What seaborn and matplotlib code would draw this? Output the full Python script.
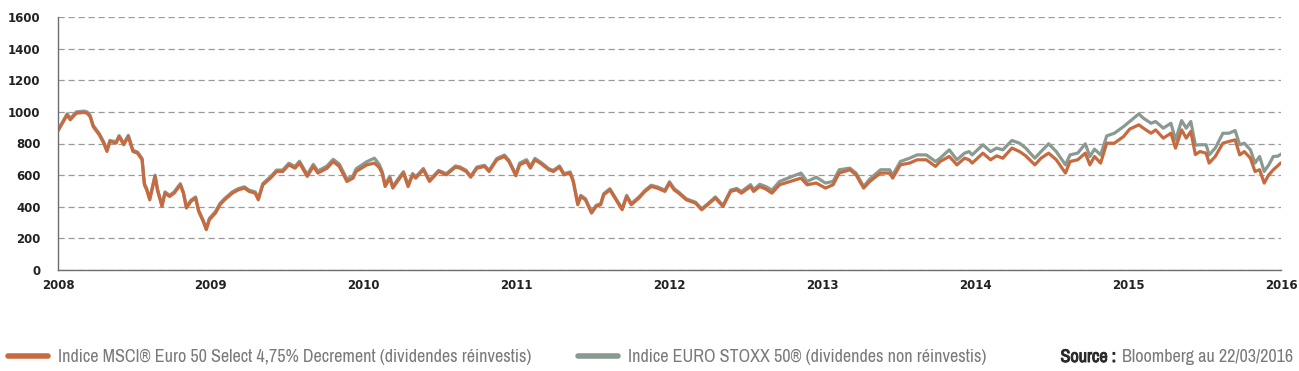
import matplotlib
matplotlib.use('Agg')
import matplotlib.pyplot as plt
from matplotlib import font_manager
from matplotlib import patheffects
from matplotlib.lines import Line2D
import seaborn as sns
import pandas as pd

# dates as decimal years
years = [
    2008.00, 2008.02, 2008.035, 2008.06, 2008.08, 2008.12, 2008.17, 2008.19, 2008.21, 2008.23,
    2008.27, 2008.30, 2008.32, 2008.34, 2008.38, 2008.40, 2008.43, 2008.46, 2008.49, 2008.52,
    2008.55, 2008.565, 2008.58, 2008.60, 2008.635, 2008.65, 2008.68, 2008.70, 2008.73, 2008.76,
    2008.80, 2008.82, 2008.84, 2008.87, 2008.90, 2008.92, 2008.95, 2008.97, 2008.99, 2009.03,
    2009.06, 2009.09, 2009.14, 2009.18, 2009.22, 2009.25, 2009.29, 2009.31, 2009.34, 2009.39,
    2009.43, 2009.47, 2009.51, 2009.55, 2009.58, 2009.63, 2009.67, 2009.70, 2009.76, 2009.80,
    2009.84, 2009.89, 2009.93, 2009.95, 2010.02, 2010.07, 2010.10, 2010.12, 2010.14, 2010.17,
    2010.19, 2010.22, 2010.26, 2010.29, 2010.32, 2010.34, 2010.39, 2010.43, 2010.49, 2010.54,
    2010.60, 2010.63, 2010.67, 2010.70, 2010.74, 2010.79, 2010.82, 2010.87, 2010.92, 2010.95,
    2010.995, 2011.02, 2011.065, 2011.09, 2011.12, 2011.16, 2011.21, 2011.24, 2011.28, 2011.31,
    2011.35, 2011.37, 2011.40, 2011.42, 2011.45, 2011.49, 2011.52, 2011.55, 2011.57, 2011.61,
    2011.65, 2011.69, 2011.72, 2011.75, 2011.80, 2011.84, 2011.88, 2011.92, 2011.97, 2012.00,
    2012.03, 2012.06, 2012.11, 2012.17, 2012.21, 2012.25, 2012.30, 2012.35, 2012.40, 2012.44,
    2012.47, 2012.53, 2012.55, 2012.59, 2012.63, 2012.67, 2012.72, 2012.79, 2012.86, 2012.90,
    2012.96, 2013.02, 2013.07, 2013.11, 2013.18, 2013.22, 2013.27, 2013.31, 2013.38, 2013.44,
    2013.46, 2013.51, 2013.57, 2013.62, 2013.68, 2013.74, 2013.77, 2013.83, 2013.88, 2013.93,
    2013.96, 2013.98, 2014.05, 2014.10, 2014.14, 2014.18, 2014.24, 2014.29, 2014.33, 2014.39,
    2014.43, 2014.48, 2014.53, 2014.59, 2014.62, 2014.67, 2014.72, 2014.75, 2014.78, 2014.82,
    2014.86, 2014.91, 2014.97, 2015.01, 2015.07, 2015.10, 2015.15, 2015.18, 2015.23, 2015.28,
    2015.31, 2015.35, 2015.38, 2015.41, 2015.44, 2015.47, 2015.51, 2015.53, 2015.57, 2015.62,
    2015.66, 2015.70, 2015.73, 2015.76, 2015.80, 2015.83, 2015.86, 2015.89, 2015.92, 2015.95,
    2015.98, 2016.00,
]

msci_select = [
    880, 915, 939, 981, 950, 992, 996, 992, 970, 907,
    855, 800, 750, 813, 802, 844, 792, 844, 750, 739,
    697, 539, 507, 444, 592, 507, 402, 486, 465, 486,
    539, 486, 392, 434, 455, 371, 307, 255, 318, 360,
    413, 444, 486, 507, 518, 497, 486, 444, 539, 581,
    623, 623, 665, 644, 676, 592, 655, 613, 644, 686,
    655, 560, 581, 623, 665, 676, 650, 613, 528, 581,
    518, 560, 613, 528, 602, 581, 634, 560, 623, 602,
    651, 644, 623, 587, 644, 655, 623, 697, 718, 686,
    596, 665, 686, 644, 697, 672, 634, 623, 651, 602,
    613, 560, 413, 465, 444, 360, 402, 413, 476, 507,
    444, 381, 465, 413, 455, 497, 528, 518, 497, 550,
    507, 486, 444, 423, 381, 413, 455, 402, 497, 507,
    486, 528, 497, 528, 512, 486, 539, 560, 581, 539,
    550, 518, 539, 613, 634, 602, 518, 560, 613, 613,
    581, 665, 676, 697, 697, 655, 686, 718, 665, 707,
    697, 676, 739, 697, 722, 707, 771, 749, 722, 665,
    707, 739, 697, 613, 686, 697, 739, 665, 718, 676,
    802, 802, 844, 891, 918, 897, 865, 886, 834, 865,
    771, 886, 834, 876, 730, 749, 739, 676, 718, 802,
    813, 823, 728, 749, 707, 623, 634, 550, 602, 634,
    660, 678,
]

euro_stoxx = [
    885, 920, 945, 988, 958, 1000, 1005, 1000, 978, 915,
    862, 808, 758, 820, 810, 850, 800, 852, 758, 746,
    705, 548, 515, 452, 600, 515, 410, 494, 472, 494,
    546, 493, 400, 442, 462, 378, 314, 262, 326, 370,
    422, 452, 494, 515, 526, 505, 494, 452, 547, 590,
    632, 632, 675, 655, 688, 604, 668, 626, 658, 700,
    670, 575, 596, 640, 685, 707, 670, 625, 540, 592,
    528, 570, 622, 537, 610, 590, 642, 568, 630, 609,
    658, 652, 630, 594, 651, 662, 630, 705, 727, 694,
    604, 676, 698, 655, 706, 680, 641, 630, 658, 609,
    620, 567, 420, 472, 451, 367, 409, 420, 483, 514,
    451, 388, 472, 420, 462, 504, 536, 526, 505, 558,
    515, 493, 450, 429, 387, 419, 462, 409, 505, 516,
    496, 540, 509, 542, 528, 505, 560, 587, 613, 560,
    587, 550, 560, 634, 644, 613, 528, 575, 634, 634,
    600, 686, 707, 728, 728, 686, 707, 760, 697, 739,
    749, 728, 792, 749, 771, 760, 819, 802, 771, 707,
    749, 798, 749, 665, 728, 739, 798, 718, 764, 728,
    848, 865, 907, 939, 987, 960, 928, 939, 897, 928,
    823, 945, 897, 939, 790, 792, 792, 728, 771, 865,
    865, 882, 792, 802, 760, 676, 718, 623, 665, 718,
    720, 733,
]

year_ticks = [2008, 2009, 2010, 2011, 2012, 2013, 2014, 2015, 2016]
value_ticks = [0, 200, 400, 600, 800, 1000, 1200, 1400, 1600]

label_msci = "Indice MSCI® Euro 50 Select 4,75% Decrement (dividendes réinvestis)"
label_stoxx = "Indice EURO STOXX 50® (dividendes non réinvestis)"
source_bold = "Source :"
source_txt = "Bloomberg au 22/03/2016"

ORANGE = '#C86A40'
GREY = '#8A9A90'
TXT_GREY = '#7a7a7a'

W, H = 1299, 371

df = pd.DataFrame({'annee': years, 'msci': msci_select, 'stoxx': euro_stoxx})

sns.set_style('white')
plt.rcParams['font.family'] = ['DejaVu Sans']

# police etroite si dispo, sinon une police assez serree
installed = sorted({f.name for f in font_manager.fontManager.ttflist})
narrow_name = None
for name in installed:
    if 'Narrow' in name or 'Condensed' in name:
        narrow_name = name
        break
if narrow_name is None:
    narrow_name = 'Roboto' if 'Roboto' in installed else 'DejaVu Sans'
narrow = [narrow_name, 'DejaVu Sans']

fig = plt.figure(figsize=(W / 100, H / 100), dpi=100)
ax = fig.add_axes([58 / W, 1 - 270 / H, (1281 - 58) / W, (270 - 17) / H])

sns.lineplot(data=df, x='annee', y='stoxx', ax=ax, color=GREY, lw=2.3, sort=False)
sns.lineplot(data=df, x='annee', y='msci', ax=ax, color=ORANGE, lw=2.3, sort=False)

ax.set_xlim(2008, 2016)
ax.set_ylim(0, 1600)
ax.set_xticks(year_ticks)
ax.set_xticklabels([str(y) for y in year_ticks])
ax.set_yticks(value_ticks)
ax.set_xlabel('')
ax.set_ylabel('')

ax.yaxis.grid(True, color='#9a9a9a', linestyle=(0, (5, 3)), linewidth=0.9)
ax.xaxis.grid(False)
ax.set_axisbelow(True)

for side in ['top', 'right']:
    ax.spines[side].set_visible(False)
for side in ['left', 'bottom']:
    ax.spines[side].set_color('#6e6e6e')
    ax.spines[side].set_linewidth(1.0)

ax.tick_params(axis='both', which='major', length=4.5, width=1, color='#6e6e6e',
               labelsize=8.5, labelcolor='#222222', direction='out')
ax.tick_params(axis='x', pad=2)
ax.tick_params(axis='y', pad=8)
for lab in ax.get_xticklabels() + ax.get_yticklabels():
    lab.set_fontweight('bold')

# taille du texte de legende: on cale la largeur du premier libelle sur l'original (~475 px)
probe = fig.text(0, 0, label_msci, family=narrow, size=13)
fig.canvas.draw()
renderer = fig.canvas.get_renderer()
size = 13 * 475 / probe.get_window_extent(renderer).width
probe.remove()
px = size * 100 / 72  # taille en pixels

y_leg = 1 - 357 / H
h1 = Line2D([], [], color=ORANGE, lw=4, solid_capstyle='round')
h2 = Line2D([], [], color=GREY, lw=4, solid_capstyle='round')
leg_kw = dict(loc='center left', frameon=False, borderaxespad=0, borderpad=0,
              handlelength=40 / px, handletextpad=10 / px,
              prop={'family': narrow, 'size': size})
leg1 = fig.legend([h1], [label_msci], bbox_to_anchor=(8 / W, y_leg), **leg_kw)
leg2 = fig.legend([h2], [label_stoxx], bbox_to_anchor=(578 / W, y_leg), **leg_kw)
for leg in (leg1, leg2):
    for t in leg.get_texts():
        t.set_color(TXT_GREY)

t_src1 = fig.text(1053 / W, y_leg, source_bold, family=narrow, size=size, weight='bold',
                  color='#2a2a2a', va='center', ha='left')
# un peu de graisse en plus, comme sur l'original
t_src1.set_path_effects([patheffects.withStroke(linewidth=0.7, foreground='#2a2a2a')])
t_src2 = fig.text(1113 / W, y_leg, source_txt, family=narrow, size=size,
                  color=TXT_GREY, va='center', ha='left')
fig.canvas.draw()
w_bold = t_src1.get_window_extent(renderer).width
w_src = t_src2.get_window_extent(renderer).width
# bloc source cale a droite (fin vers x=1293)
x0 = 1293 - (w_bold + 6 + w_src)
t_src1.set_x(x0 / W)
t_src2.set_x((x0 + w_bold + 6) / W)

fig.savefig('out.png', dpi=100)
